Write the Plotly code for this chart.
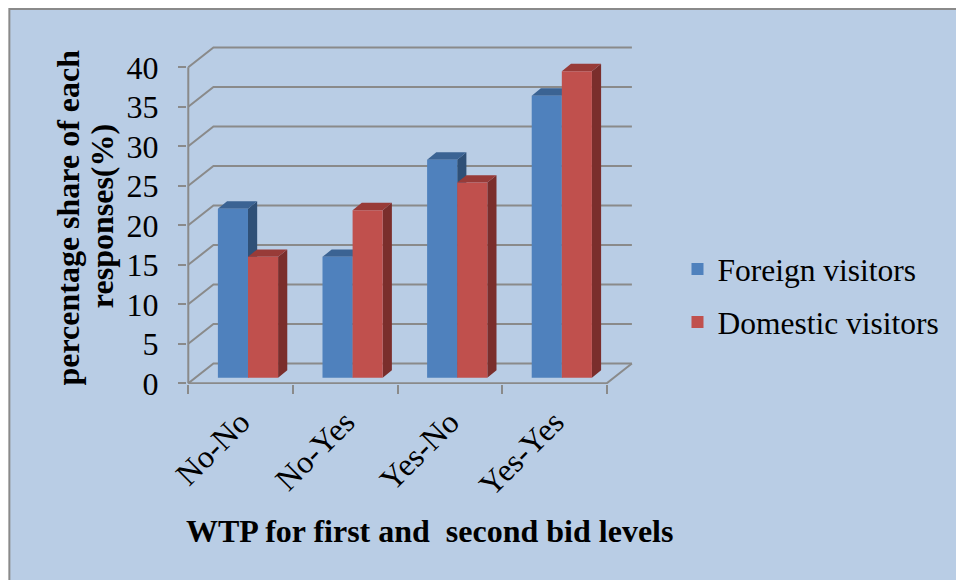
import plotly.graph_objects as go

# ---- data -------------------------------------------------------------
categories = ["No-No", "No-Yes", "Yes-No", "Yes-Yes"]
foreign = [21.4, 15.3, 27.6, 35.7]
domestic = [15.3, 21.2, 24.7, 38.8]
series_names = ["Foreign visitors", "Domestic visitors"]
y_ticks = [0, 5, 10, 15, 20, 25, 30, 35, 40]

# ---- canvas / plot area (pixels) -------------------------------------
W, H = 956, 580
L, R, T, B = 187, 645, 40, 384

# pixels per category and per value unit on the front plane
CAT_PX = 106.0
VAL_PX = 7.9
X0_PX = 188.3   # pixel of the left category boundary (-0.5)
Y0_PX = 383.3   # pixel of value 0 on the front plane

x_range = [-0.5 - (X0_PX - L) / CAT_PX, -0.5 + (R - X0_PX) / CAT_PX]
y_range = [(Y0_PX - B) / VAL_PX, (Y0_PX - T) / VAL_PX]

# oblique depth offsets, in data units
WALL_DX, WALL_DY = 25.5 / CAT_PX, 19.8 / VAL_PX     # full depth (back wall)
OFF_DX, OFF_DY = 7.5 / CAT_PX, 5.6 / VAL_PX         # plane of the bar fronts
BAR_DX, BAR_DY = 9.3 / CAT_PX, 7.4 / VAL_PX         # depth of one bar
BAR_W = 30.5 / CAT_PX

FRONT = ["#4F81BD", "#C0504D"]
TOP = ["#3B6393", "#983B38"]
SIDE = ["#2F5077", "#7A2E2C"]
GRID = "#8A8A8A"
BG = "#B9CDE5"
FONT = "Liberation Serif"


def px_x(px):
    return (px - L) / (R - L)


def px_y(py):
    return (B - py) / (B - T)


def serif(size):
    return dict(family=FONT, size=size, color="black")


fig = go.Figure()

# ---- walls, gridlines and floor --------------------------------------
n = len(categories)
gx, gy = [], []
for v in y_ticks:
    gx += [-0.5, -0.5 + WALL_DX, n - 0.5 + WALL_DX, None]
    gy += [v, v + WALL_DY, v + WALL_DY, None]
# floor front edge + right edge
gx += [-0.5, n - 0.5, n - 0.5 + WALL_DX, None]
gy += [0, 0, WALL_DY, None]
# front value axis line
gx += [-0.5, -0.5]
gy += [0, y_ticks[-1]]
fig.add_trace(go.Scatter(x=gx, y=gy, mode="lines", line=dict(color=GRID, width=2),
                         hoverinfo="skip", showlegend=False))

# ---- side and top faces of the bars ----------------------------------
all_series = [foreign, domestic]
for s, vals in enumerate(all_series):
    sx, sy, tx, ty = [], [], [], []
    for i, v in enumerate(vals):
        left = i + OFF_DX - BAR_W + s * BAR_W
        right = left + BAR_W
        base = OFF_DY
        top = base + v
        sx += [right, right + BAR_DX, right + BAR_DX, right, right, None]
        sy += [base, base + BAR_DY, top + BAR_DY, top, base, None]
        tx += [left, right, right + BAR_DX, left + BAR_DX, left, None]
        ty += [top, top, top + BAR_DY, top + BAR_DY, top, None]
    fig.add_trace(go.Scatter(x=sx, y=sy, mode="lines", fill="toself", fillcolor=SIDE[s],
                             line=dict(width=0), hoverinfo="skip", showlegend=False))
    fig.add_trace(go.Scatter(x=tx, y=ty, mode="lines", fill="toself", fillcolor=TOP[s],
                             line=dict(width=0), hoverinfo="skip", showlegend=False))

# ---- bar fronts (overlaid axes so they sit above the faces) ----------
for s, vals in enumerate(all_series):
    centers = [i + OFF_DX - BAR_W / 2 + s * BAR_W for i in range(n)]
    fig.add_trace(go.Bar(x=centers, y=vals, base=OFF_DY, width=BAR_W,
                         marker=dict(color=FRONT[s], line=dict(width=0)),
                         name=series_names[s], xaxis="x2", yaxis="y2",
                         legendgroup=series_names[s]))

fig.update_layout(
    width=W, height=H,
    margin=dict(l=L, r=W - R, t=T, b=H - B, pad=0),
    paper_bgcolor="white",
    plot_bgcolor="rgba(0,0,0,0)",
    barmode="overlay",
    font=serif(32),
    xaxis=dict(range=x_range, tickmode="array", tickvals=list(range(n)),
               ticktext=categories, tickangle=-45, ticks="", showgrid=False,
               zeroline=False, showline=False, ticklabelstandoff=12,
               minor=dict(tickmode="array", tickvals=[i - 0.5 for i in range(n + 1)],
                          ticks="outside", ticklen=9, tickwidth=2, tickcolor=GRID,
                          showgrid=False),
               tickfont=serif(32)),
    yaxis=dict(range=y_range, tickmode="array", tickvals=y_ticks, ticks="outside",
               ticklen=8, tickwidth=2, tickcolor=GRID, showgrid=False,
               zeroline=False, showline=False, ticklabelstandoff=13,
               tickfont=serif(32)),
    xaxis2=dict(range=x_range, overlaying="x", anchor="y2", visible=False),
    yaxis2=dict(range=y_range, overlaying="y", anchor="x2", visible=False),
    legend=dict(x=px_x(684), y=px_y(242), xanchor="left", yanchor="top",
                bgcolor="rgba(0,0,0,0)", font=serif(31.5),
                traceorder="grouped", tracegroupgap=9),
    shapes=[dict(type="rect", xref="paper", yref="paper",
                 x0=px_x(7), x1=px_x(975), y0=px_y(600), y1=px_y(9),
                 fillcolor=BG, line=dict(color="#8A8A8A", width=2), layer="below")],
    annotations=[
        dict(text="<b>WTP for first and\u00a0 second bid levels</b>", xref="paper",
             yref="paper", x=px_x(432.5), y=px_y(531), xanchor="center",
             yanchor="middle", showarrow=False, font=serif(32)),
        dict(text="<b>percentage share of each</b>", xref="paper", yref="paper",
             x=px_x(66), y=px_y(218), xanchor="center", yanchor="middle",
             textangle=-90, showarrow=False, font=serif(32)),
        dict(text="<b>responses(%)</b>", xref="paper", yref="paper",
             x=px_x(101), y=px_y(216), xanchor="center", yanchor="middle",
             textangle=-90, showarrow=False, font=serif(32)),
    ],
)

fig.write_html("out.html")
